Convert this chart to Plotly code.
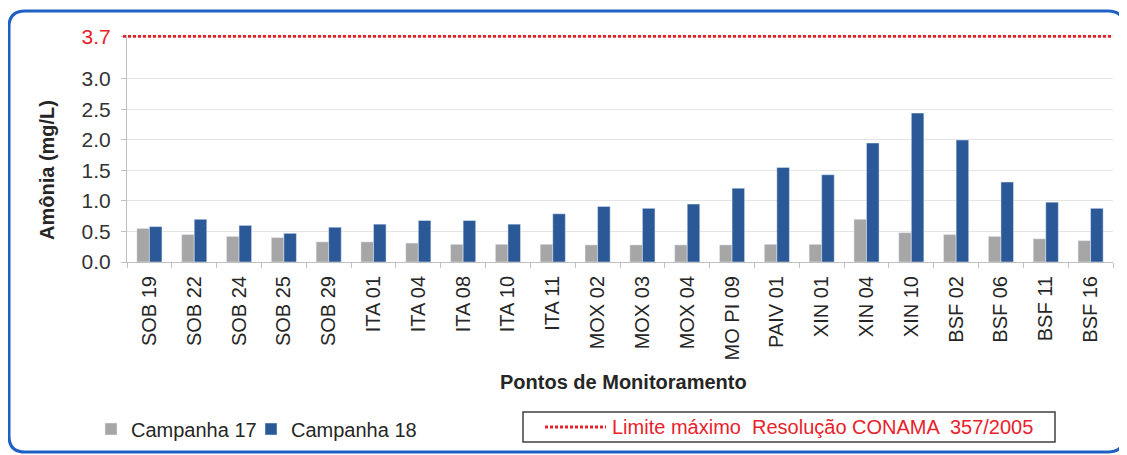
import plotly.graph_objects as go

# pontos de monitoramento e valores de amonia (mg/L)
pontos = ["SOB 19", "SOB 22", "SOB 24", "SOB 25", "SOB 29", "ITA 01", "ITA 04",
          "ITA 08", "ITA 10", "ITA 11", "MOX 02", "MOX 03", "MOX 04", "MO PI 09",
          "PAIV 01", "XIN 01", "XIN 04", "XIN 10", "BSF 02", "BSF 06", "BSF 11", "BSF 16"]
campanha17 = [0.55, 0.45, 0.42, 0.40, 0.33, 0.33, 0.31, 0.29, 0.29, 0.29, 0.28,
              0.28, 0.28, 0.28, 0.29, 0.29, 0.70, 0.48, 0.45, 0.42, 0.38, 0.35]
campanha18 = [0.58, 0.70, 0.60, 0.47, 0.57, 0.62, 0.68, 0.68, 0.62, 0.79, 0.91,
              0.88, 0.95, 1.21, 1.55, 1.43, 1.95, 2.44, 2.00, 1.31, 0.98, 0.88]
limite = 3.7
limite_nome = "Limite máximo  Resolução CONAMA  357/2005"
ytick_vals = [0.0, 0.5, 1.0, 1.5, 2.0, 2.5, 3.0, 3.7]

# the page body has an 8px margin, so the figure is drawn 8px in from the corner
OFF = 8
W, H = 1127 - OFF, 455 - OFF
L, R, T, B = 119, 14, 27, 193
pw = W - L - R
ph = H - T - B

# screen pixel -> paper coords
def px2x(px):
    return (px - OFF - L) / pw

def px2y(py):
    return (H - B - (py - OFF)) / ph

FONT = "Arial, Liberation Sans, sans-serif"
RED = "#E8222B"
DOT = "3px,2px"

fig = go.Figure()
fig.add_trace(go.Bar(x=pontos, y=campanha17, name="Campanha 17",
                     marker=dict(color="#A6A6A6"), legend="legend"))
fig.add_trace(go.Bar(x=pontos, y=campanha18, name="Campanha 18",
                     marker=dict(color="#2B5896"), legend="legend2"))

ticktext = ["%.1f" % v for v in ytick_vals[:-1]] + ['<span style="color:%s">3.7</span>' % RED]

leg = dict(orientation="h", xanchor="left", yanchor="middle",
           font=dict(size=20, color="#262626"), bgcolor="rgba(0,0,0,0)")
fig.update_layout(
    width=W, height=H,
    margin=dict(l=L, r=R, t=T, b=B, autoexpand=False),
    paper_bgcolor="white", plot_bgcolor="white",
    font=dict(family=FONT, size=19, color="#262626"),
    barmode="group", bargap=0.44, bargroupgap=0,
    showlegend=True,
    legend=dict(leg, x=px2x(91), y=px2y(429)),
    legend2=dict(leg, x=px2x(251), y=px2y(429)),
    xaxis=dict(showline=True, linecolor="#BFBFBF", ticks="outside", ticklen=5,
               tickcolor="#BFBFBF", tickson="boundaries", tickangle=-90,
               ticklabelstandoff=5,
               tickfont=dict(size=20, color="#262626"), showgrid=False, automargin=False),
    yaxis=dict(range=[0, 3.72], tickvals=ytick_vals, ticktext=ticktext,
               showline=True, linecolor="#BFBFBF", ticks="outside", ticklen=5,
               tickcolor="#BFBFBF", showgrid=True, gridcolor="#E4E4E4",
               ticklabelstandoff=6,
               zeroline=False, tickfont=dict(size=21, color="#333333"), automargin=False),
)

# linha do limite maximo
fig.add_shape(type="line", xref="paper", yref="y", x0=px2x(123), x1=1, y0=limite, y1=limite,
              line=dict(color=RED, width=3, dash=DOT))

# titulos dos eixos
fig.add_annotation(text="<b>Amônia (mg/L)</b>", xref="paper", yref="paper",
                   x=px2x(47), y=px2y(170), xanchor="center", yanchor="middle",
                   textangle=-90, showarrow=False,
                   font=dict(size=20, color="#262626"))
fig.add_annotation(text="<b>Pontos de Monitoramento</b>", xref="paper", yref="paper",
                   x=px2x(623), y=px2y(382), xanchor="center", yanchor="middle",
                   showarrow=False, font=dict(size=20, color="#262626"))

# legenda do limite (caixa com linha pontilhada e texto)
fig.add_shape(type="rect", xref="paper", yref="paper",
              x0=px2x(523), x1=px2x(1055), y0=px2y(412), y1=px2y(442),
              line=dict(color="#404040", width=1.5), fillcolor="white")
fig.add_shape(type="line", xref="paper", yref="paper",
              x0=px2x(545), x1=px2x(606), y0=px2y(427), y1=px2y(427),
              line=dict(color=RED, width=3, dash=DOT))
fig.add_annotation(text=limite_nome, xref="paper", yref="paper",
                   x=px2x(610), y=px2y(427), xanchor="left", yanchor="middle",
                   showarrow=False, font=dict(size=20, color=RED))

# moldura arredondada azul
x0, x1, y0, y1, r = 9, 1124, 11, 452, 16
path = ("M {a},{b} L {c},{b} Q {x1},{b} {x1},{d} L {x1},{e} Q {x1},{y1} {c},{y1} "
        "L {a},{y1} Q {x0},{y1} {x0},{e} L {x0},{d} Q {x0},{b} {a},{b} Z").format(
    a=px2x(x0 + r), b=px2y(y0), c=px2x(x1 - r), d=px2y(y0 + r), e=px2y(y1 - r),
    x0=px2x(x0), x1=px2x(x1), y1=px2y(y1))
fig.add_shape(type="path", xref="paper", yref="paper", path=path,
              line=dict(color="#1F60C4", width=3), layer="below")

fig.write_html("out.html")
